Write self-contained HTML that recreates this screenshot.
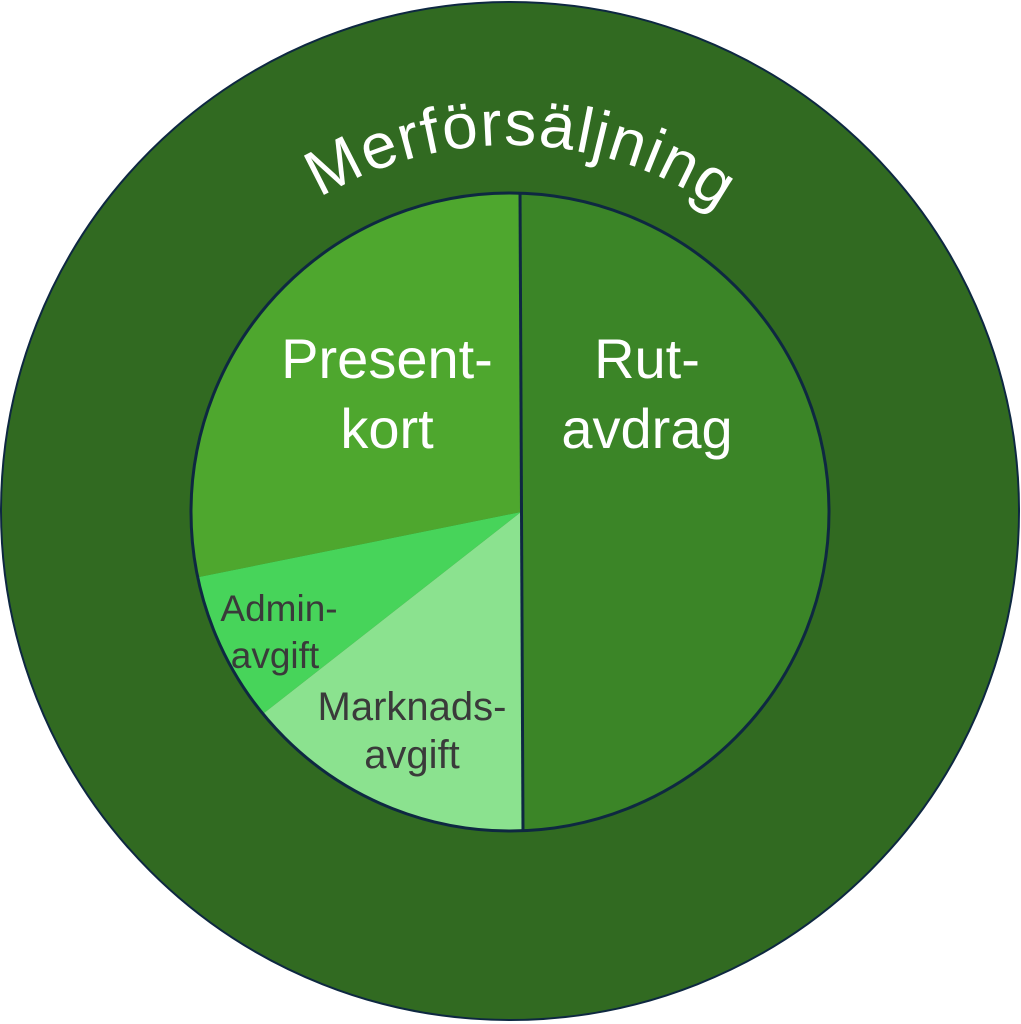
<!DOCTYPE html>
<html><head><meta charset="utf-8"><style>
html,body{margin:0;padding:0;background:#fff;}
svg{display:block;}
text{font-family:"Liberation Sans",sans-serif;}
</style></head><body>
<svg width="1021" height="1024" viewBox="0 0 1021 1024" xmlns="http://www.w3.org/2000/svg">
<defs>
<clipPath id="c"><circle cx="510" cy="512" r="319"/></clipPath>
<path id="arc" d="M 143 512 A 367 367 0 0 1 877 512"/>
</defs>
<circle cx="510" cy="511" r="509" fill="#316a21" stroke="#0e2841" stroke-width="2"/>
<text font-size="64" fill="#fff" letter-spacing="1.5"><textPath href="#arc" startOffset="51%" text-anchor="middle">Merförsäljning</textPath></text>
<g clip-path="url(#c)">
<polygon points="520,150 1000,150 1000,900 523,900 521,512" fill="#3b8527"/>
<polygon points="520,150 100,150 100,597 521,512" fill="#4ea72e"/>
<polygon points="100,597 521,512 204,760 100,760" fill="#47d45a"/>
<polygon points="204,760 521,512 523,900 150,900" fill="#8be28f"/>
<line x1="520" y1="190" x2="523" y2="834" stroke="#0e2841" stroke-width="3"/>
</g>
<circle cx="510" cy="512" r="319" fill="none" stroke="#0e2841" stroke-width="3"/>
<g fill="#fff" font-size="56" text-anchor="middle">
<text x="387" y="378">Present-</text>
<text x="387" y="448">kort</text>
<text x="647" y="378">Rut-</text>
<text x="647" y="448">avdrag</text>
</g>
<g fill="#3a3a3a" text-anchor="middle">
<text x="279" y="621" font-size="37">Admin-</text>
<text x="275" y="668" font-size="37">avgift</text>
<text x="412" y="720" font-size="40">Marknads-</text>
<text x="412" y="768" font-size="40">avgift</text>
</g>
</svg>
</body></html>
